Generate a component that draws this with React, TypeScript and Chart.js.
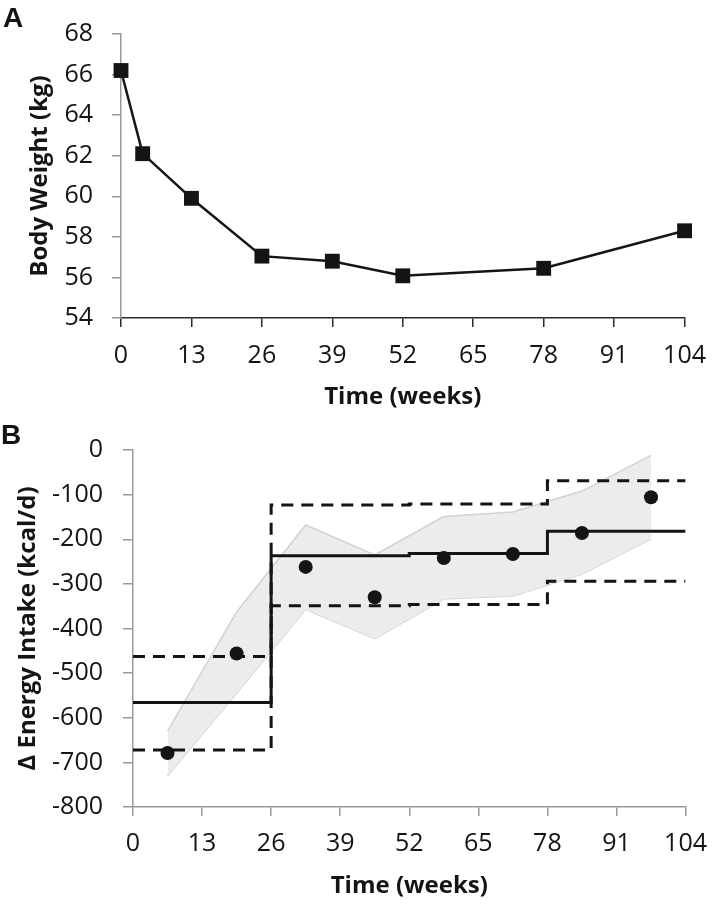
import React, { useEffect, useRef } from "react";
import { Chart, registerables } from "chart.js";

Chart.register(...registerables);

// ---------- Panel A data ----------
const weeksA = [0, 4, 13, 26, 39, 52, 78, 104];
const bodyWeightKg = [66.2, 62.1, 59.9, 57.05, 56.8, 56.08, 56.45, 58.3];

// ---------- Panel B data ----------
const periodStartWeeks = [0, 26, 52, 78, 104];
const modelMean = [-566, -237, -232, -182, -182];
const modelUpper = [-463, -123, -121, -69, -69];
const modelLower = [-672, -349, -346, -294, -294];

const obsWeeks = [6.5, 19.5, 32.5, 45.5, 58.5, 71.5, 84.5, 97.5];
const obsIntake = [-679, -456, -262, -330, -242, -233, -186, -106];
const bandUpper = [-630, -363, -168, -235, -149, -139, -92, -12];
const bandLower = [-730, -545, -357, -423, -334, -327, -278, -199];

// ---------- Axes ----------
const weekMin = 0;
const weekMax = 104;
const weekStep = 13;
const weightMin = 54;
const weightMax = 68;
const weightStep = 2;
const intakeMin = -800;
const intakeMax = 0;
const intakeStep = 100;

const xTitle = "Time (weeks)";
const yTitleA = "Body Weight (kg)";
const yTitleB = "Δ Energy Intake (kcal/d)";

const FONT = "'Open Sans', 'DejaVu Sans', sans-serif";
const tickFont = { family: FONT, size: 25 };
const titleFont = { family: FONT, size: 24, weight: "bold" as const };
const INK = "#141414";
const AXIS_GRAY = "#9a9a9a";

const pts = (xs: number[], ys: number[]) => xs.map((x, i) => ({ x, y: ys[i] }));

function xScale(opts: { height: number; tickLen: number; pad: number; color: string }) {
  return {
    type: "linear" as const,
    min: weekMin,
    max: weekMax,
    afterFit: (s: any) => {
      s.height = opts.height;
    },
    ticks: {
      stepSize: weekStep,
      autoSkip: false,
      maxRotation: 0,
      padding: opts.pad,
      color: INK,
      font: tickFont,
    },
    grid: {
      drawOnChartArea: false,
      drawTicks: true,
      tickLength: opts.tickLen,
      color: opts.color,
      lineWidth: 1.5,
    },
    border: { display: true, color: opts.color, width: 1.5 },
    title: {
      display: true,
      text: xTitle,
      color: INK,
      font: titleFont,
      padding: { top: 0, bottom: 3 },
    },
  };
}

function yScale(opts: {
  min: number;
  max: number;
  step: number;
  width: number;
  tickLen: number;
  pad: number;
  title: string;
  titlePad: number;
}) {
  return {
    type: "linear" as const,
    min: opts.min,
    max: opts.max,
    afterFit: (s: any) => {
      s.width = opts.width;
    },
    ticks: {
      stepSize: opts.step,
      autoSkip: false,
      padding: opts.pad,
      color: INK,
      font: tickFont,
    },
    grid: {
      drawOnChartArea: false,
      drawTicks: true,
      tickLength: opts.tickLen,
      color: AXIS_GRAY,
      lineWidth: 1.5,
    },
    border: { display: true, color: AXIS_GRAY, width: 1.5 },
    title: {
      display: true,
      text: opts.title,
      color: INK,
      font: titleFont,
      padding: { top: opts.titlePad, bottom: 0 },
    },
  };
}

const basePlugins = {
  legend: { display: false },
  tooltip: { enabled: false },
};

export default function App() {
  const refA = useRef<HTMLCanvasElement | null>(null);
  const refB = useRef<HTMLCanvasElement | null>(null);

  useEffect(() => {
    if (!refA.current || !refB.current) return;

    const chartA = new Chart(refA.current, {
      type: "line",
      data: {
        datasets: [
          {
            data: pts(weeksA, bodyWeightKg),
            borderColor: INK,
            borderWidth: 2.5,
            backgroundColor: INK,
            pointStyle: "rect",
            pointRadius: 10.5,
            pointBorderWidth: 0,
            pointBackgroundColor: INK,
            tension: 0,
            clip: false,
          },
        ],
      },
      options: {
        responsive: false,
        animation: false,
        devicePixelRatio: 1,
        layout: { padding: { left: 0, top: 20, right: 22, bottom: 0 } },
        plugins: basePlugins,
        scales: {
          x: xScale({ height: 97, tickLen: 9, pad: 14, color: "#2a2a2a" }),
          y: yScale({
            min: weightMin,
            max: weightMax,
            step: weightStep,
            width: 121,
            tickLen: 9,
            pad: 19,
            title: yTitleA,
            titlePad: 26,
          }),
        },
      },
    } as any);

    const chartB = new Chart(refB.current, {
      type: "line",
      data: {
        datasets: [
          {
            // observed points
            data: pts(obsWeeks, obsIntake),
            showLine: false,
            pointStyle: "circle",
            pointRadius: 7,
            pointBorderWidth: 0,
            pointBackgroundColor: INK,
            borderColor: INK,
            clip: false,
            order: 0,
          },
          {
            data: pts(periodStartWeeks, modelMean),
            stepped: true,
            borderColor: INK,
            borderWidth: 3,
            pointRadius: 0,
            fill: false,
            order: 1,
          },
          {
            data: pts(periodStartWeeks, modelUpper),
            stepped: true,
            borderColor: INK,
            borderWidth: 3,
            borderDash: [12, 8],
            pointRadius: 0,
            fill: false,
            order: 2,
          },
          {
            data: pts(periodStartWeeks, modelLower),
            stepped: true,
            borderColor: INK,
            borderWidth: 3,
            borderDash: [12, 8],
            pointRadius: 0,
            fill: false,
            order: 3,
          },
          {
            data: pts(obsWeeks, bandUpper),
            borderColor: "#d2d2d2",
            borderWidth: 1.5,
            backgroundColor: "#ececec",
            pointRadius: 0,
            fill: "+1",
            tension: 0,
            order: 4,
          },
          {
            data: pts(obsWeeks, bandLower),
            borderColor: "#d2d2d2",
            borderWidth: 1.5,
            pointRadius: 0,
            fill: false,
            tension: 0,
            order: 5,
          },
        ],
      },
      options: {
        responsive: false,
        animation: false,
        devicePixelRatio: 1,
        layout: { padding: { left: 0, top: 28, right: 34, bottom: 0 } },
        plugins: { ...basePlugins, filler: { propagate: false } },
        scales: {
          x: xScale({ height: 97, tickLen: 9, pad: 13, color: AXIS_GRAY }),
          y: yScale({
            min: intakeMin,
            max: intakeMax,
            step: intakeStep,
            width: 133,
            tickLen: 10,
            pad: 20,
            title: yTitleB,
            titlePad: 14,
          }),
        },
      },
    } as any);

    return () => {
      chartA.destroy();
      chartB.destroy();
    };
  }, []);

  const panelLabel: React.CSSProperties = {
    position: "absolute",
    fontFamily: "'Liberation Sans', Arial, sans-serif",
    fontWeight: "bold",
    fontSize: 28,
    lineHeight: "28px",
    color: INK,
  };

  return (
    <div
      style={{
        position: "fixed",
        left: 0,
        top: 0,
        width: 720,
        height: 904,
        background: "#ffffff",
        overflow: "hidden",
      }}
    >
      <canvas
        ref={refA}
        width={720}
        height={415}
        style={{ position: "absolute", left: 0, top: 0, width: 720, height: 415 }}
      />
      <canvas
        ref={refB}
        width={720}
        height={489}
        style={{ position: "absolute", left: 0, top: 415, width: 720, height: 489 }}
      />
      <div style={{ ...panelLabel, left: 3, top: 4 }}>A</div>
      <div style={{ ...panelLabel, left: 1, top: 421 }}>B</div>
    </div>
  );
}
